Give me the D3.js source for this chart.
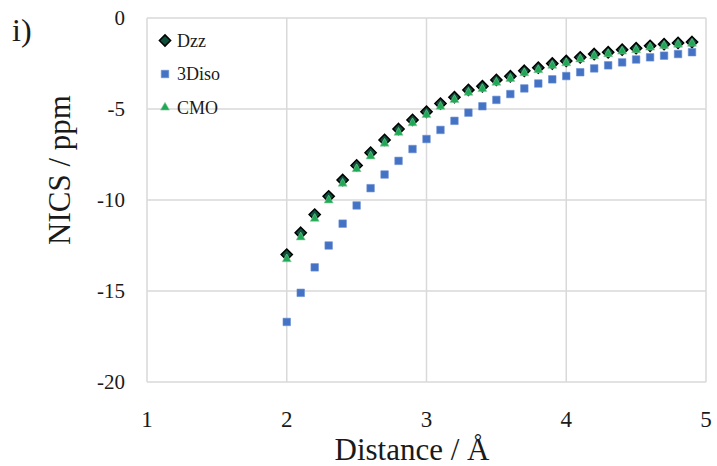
<!DOCTYPE html>
<html>
<head>
<meta charset="utf-8">
<script src="https://cdn.jsdelivr.net/npm/d3@7"></script>
<style>
  body { margin: 0; background: #fff; }
  text { font-family: "Liberation Serif", "DejaVu Serif", serif; fill: #1a1a1a; }
</style>
</head>
<body>
<div id="chart"></div>
<script>
var distance = [2.0, 2.1, 2.2, 2.3, 2.4, 2.5, 2.6, 2.7, 2.8, 2.9,
  3.0, 3.1, 3.2, 3.3, 3.4, 3.5, 3.6, 3.7, 3.8, 3.9,
  4.0, 4.1, 4.2, 4.3, 4.4, 4.5, 4.6, 4.7, 4.8, 4.9]

var dzz = [-13.0, -11.8, -10.8, -9.8, -8.9, -8.1, -7.4, -6.7, -6.1, -5.6,
  -5.15, -4.7, -4.35, -3.95, -3.75, -3.4, -3.2, -2.9, -2.73, -2.5,
  -2.36, -2.16, -1.98, -1.88, -1.74, -1.66, -1.53, -1.44, -1.37, -1.32]

var diso = [-16.7, -15.1, -13.7, -12.5, -11.3, -10.3, -9.35, -8.6, -7.85, -7.2,
  -6.65, -6.15, -5.65, -5.2, -4.85, -4.5, -4.18, -3.87, -3.6, -3.37,
  -3.19, -2.98, -2.77, -2.6, -2.44, -2.28, -2.16, -2.07, -1.98, -1.88]

var cmo = [-13.25, -12.05, -11.03, -10.02, -9.1, -8.3, -7.6, -6.9, -6.3, -5.78,
  -5.32, -4.87, -4.5, -4.1, -3.9, -3.55, -3.34, -3.03, -2.86, -2.62,
  -2.48, -2.27, -2.09, -1.98, -1.84, -1.76, -1.62, -1.53, -1.46, -1.41]

var xTicks = [1, 2, 3, 4, 5]
var yTicks = [0, -5, -10, -15, -20]

var series = [
  { name: "Dzz", values: dzz, shape: "diamond" },
  { name: "3Diso", values: diso, shape: "square" },
  { name: "CMO", values: cmo, shape: "triangle" }
]

var margin = { top: 18, right: 11, bottom: 84, left: 147 },
  width = 717 - margin.left - margin.right,
  height = 466 - margin.top - margin.bottom

var svg = d3.select("#chart").append("svg")
  .attr("width", 717)
  .attr("height", 466)

var g = svg.append("g")
  .attr("transform", "translate(" + margin.left + "," + margin.top + ")")

var x = d3.scaleLinear().domain([1, 5]).range([0, width])
var y = d3.scaleLinear().domain([-20, 0]).range([height, 0])

// gridlines
g.append("g").selectAll("line.h")
  .data(yTicks)
  .enter().append("line")
  .attr("x1", 0).attr("x2", width)
  .attr("y1", function (d) { return y(d) })
  .attr("y2", function (d) { return y(d) })
  .style("stroke", "#d9d9d9").style("stroke-width", 1.5)

g.append("g").selectAll("line.v")
  .data(xTicks)
  .enter().append("line")
  .attr("y1", 0).attr("y2", height)
  .attr("x1", function (d) { return x(d) })
  .attr("x2", function (d) { return x(d) })
  .style("stroke", "#d9d9d9").style("stroke-width", 1.5)

// tick labels
g.append("g").selectAll("text")
  .data(yTicks)
  .enter().append("text")
  .attr("x", -22)
  .attr("y", function (d) { return y(d) })
  .attr("dy", "0.35em")
  .attr("text-anchor", "end")
  .style("font-size", "21px")
  .text(function (d) { return d })

g.append("g").selectAll("text")
  .data(xTicks)
  .enter().append("text")
  .attr("x", function (d) { return x(d) })
  .attr("y", height + 45)
  .attr("text-anchor", "middle")
  .style("font-size", "23px")
  .text(function (d) { return d })

// axis titles
svg.append("text")
  .attr("x", 412)
  .attr("y", 460)
  .attr("text-anchor", "middle")
  .style("font-size", "31px")
  .text("Distance / Å")

svg.append("text")
  .attr("transform", "translate(70,170) rotate(-90)")
  .attr("text-anchor", "middle")
  .style("font-size", "31px")
  .text("NICS / ppm")

svg.append("text")
  .attr("x", 12)
  .attr("y", 41)
  .style("font-size", "32px")
  .text("i)")

function markerPath(shape) {
  if (shape == "diamond") return d3.symbol().type(d3.symbolDiamond2).size(80)()
  if (shape == "square") return d3.symbol().type(d3.symbolSquare2).size(72)()
  return d3.symbol().type(d3.symbolTriangle2).size(58)()
}

function styleMarker(sel, shape) {
  if (shape == "diamond") {
    sel.style("fill", "#0e4f3c").style("stroke", "#000").style("stroke-width", 1.5)
  } else if (shape == "square") {
    sel.style("fill", "#4472c4").style("stroke", "#6a8fd4").style("stroke-width", 0.6)
  } else {
    sel.style("fill", "#1fa855").style("stroke", "#8ccca0").style("stroke-width", 0.6)
  }
}

// points
series.forEach(function (s) {
  var pts = g.append("g").selectAll("path")
    .data(s.values)
    .enter().append("path")
    .attr("d", markerPath(s.shape))
    .attr("transform", function (d, i) {
      return "translate(" + x(distance[i]) + "," + y(d) + ")"
    })
  styleMarker(pts, s.shape)
})

// legend
var legend = svg.append("g").selectAll("g")
  .data(series)
  .enter().append("g")
  .attr("transform", function (d, i) {
    return "translate(165," + (40.5 + i * 33.5) + ")"
  })

legend.each(function (d) {
  var m = d3.select(this).append("path").attr("d", markerPath(d.shape))
  styleMarker(m, d.shape)
})

legend.append("text")
  .attr("x", 12)
  .attr("dy", "0.35em")
  .style("font-size", "18px")
  .text(function (d) { return d.name })
</script>
</body>
</html>
